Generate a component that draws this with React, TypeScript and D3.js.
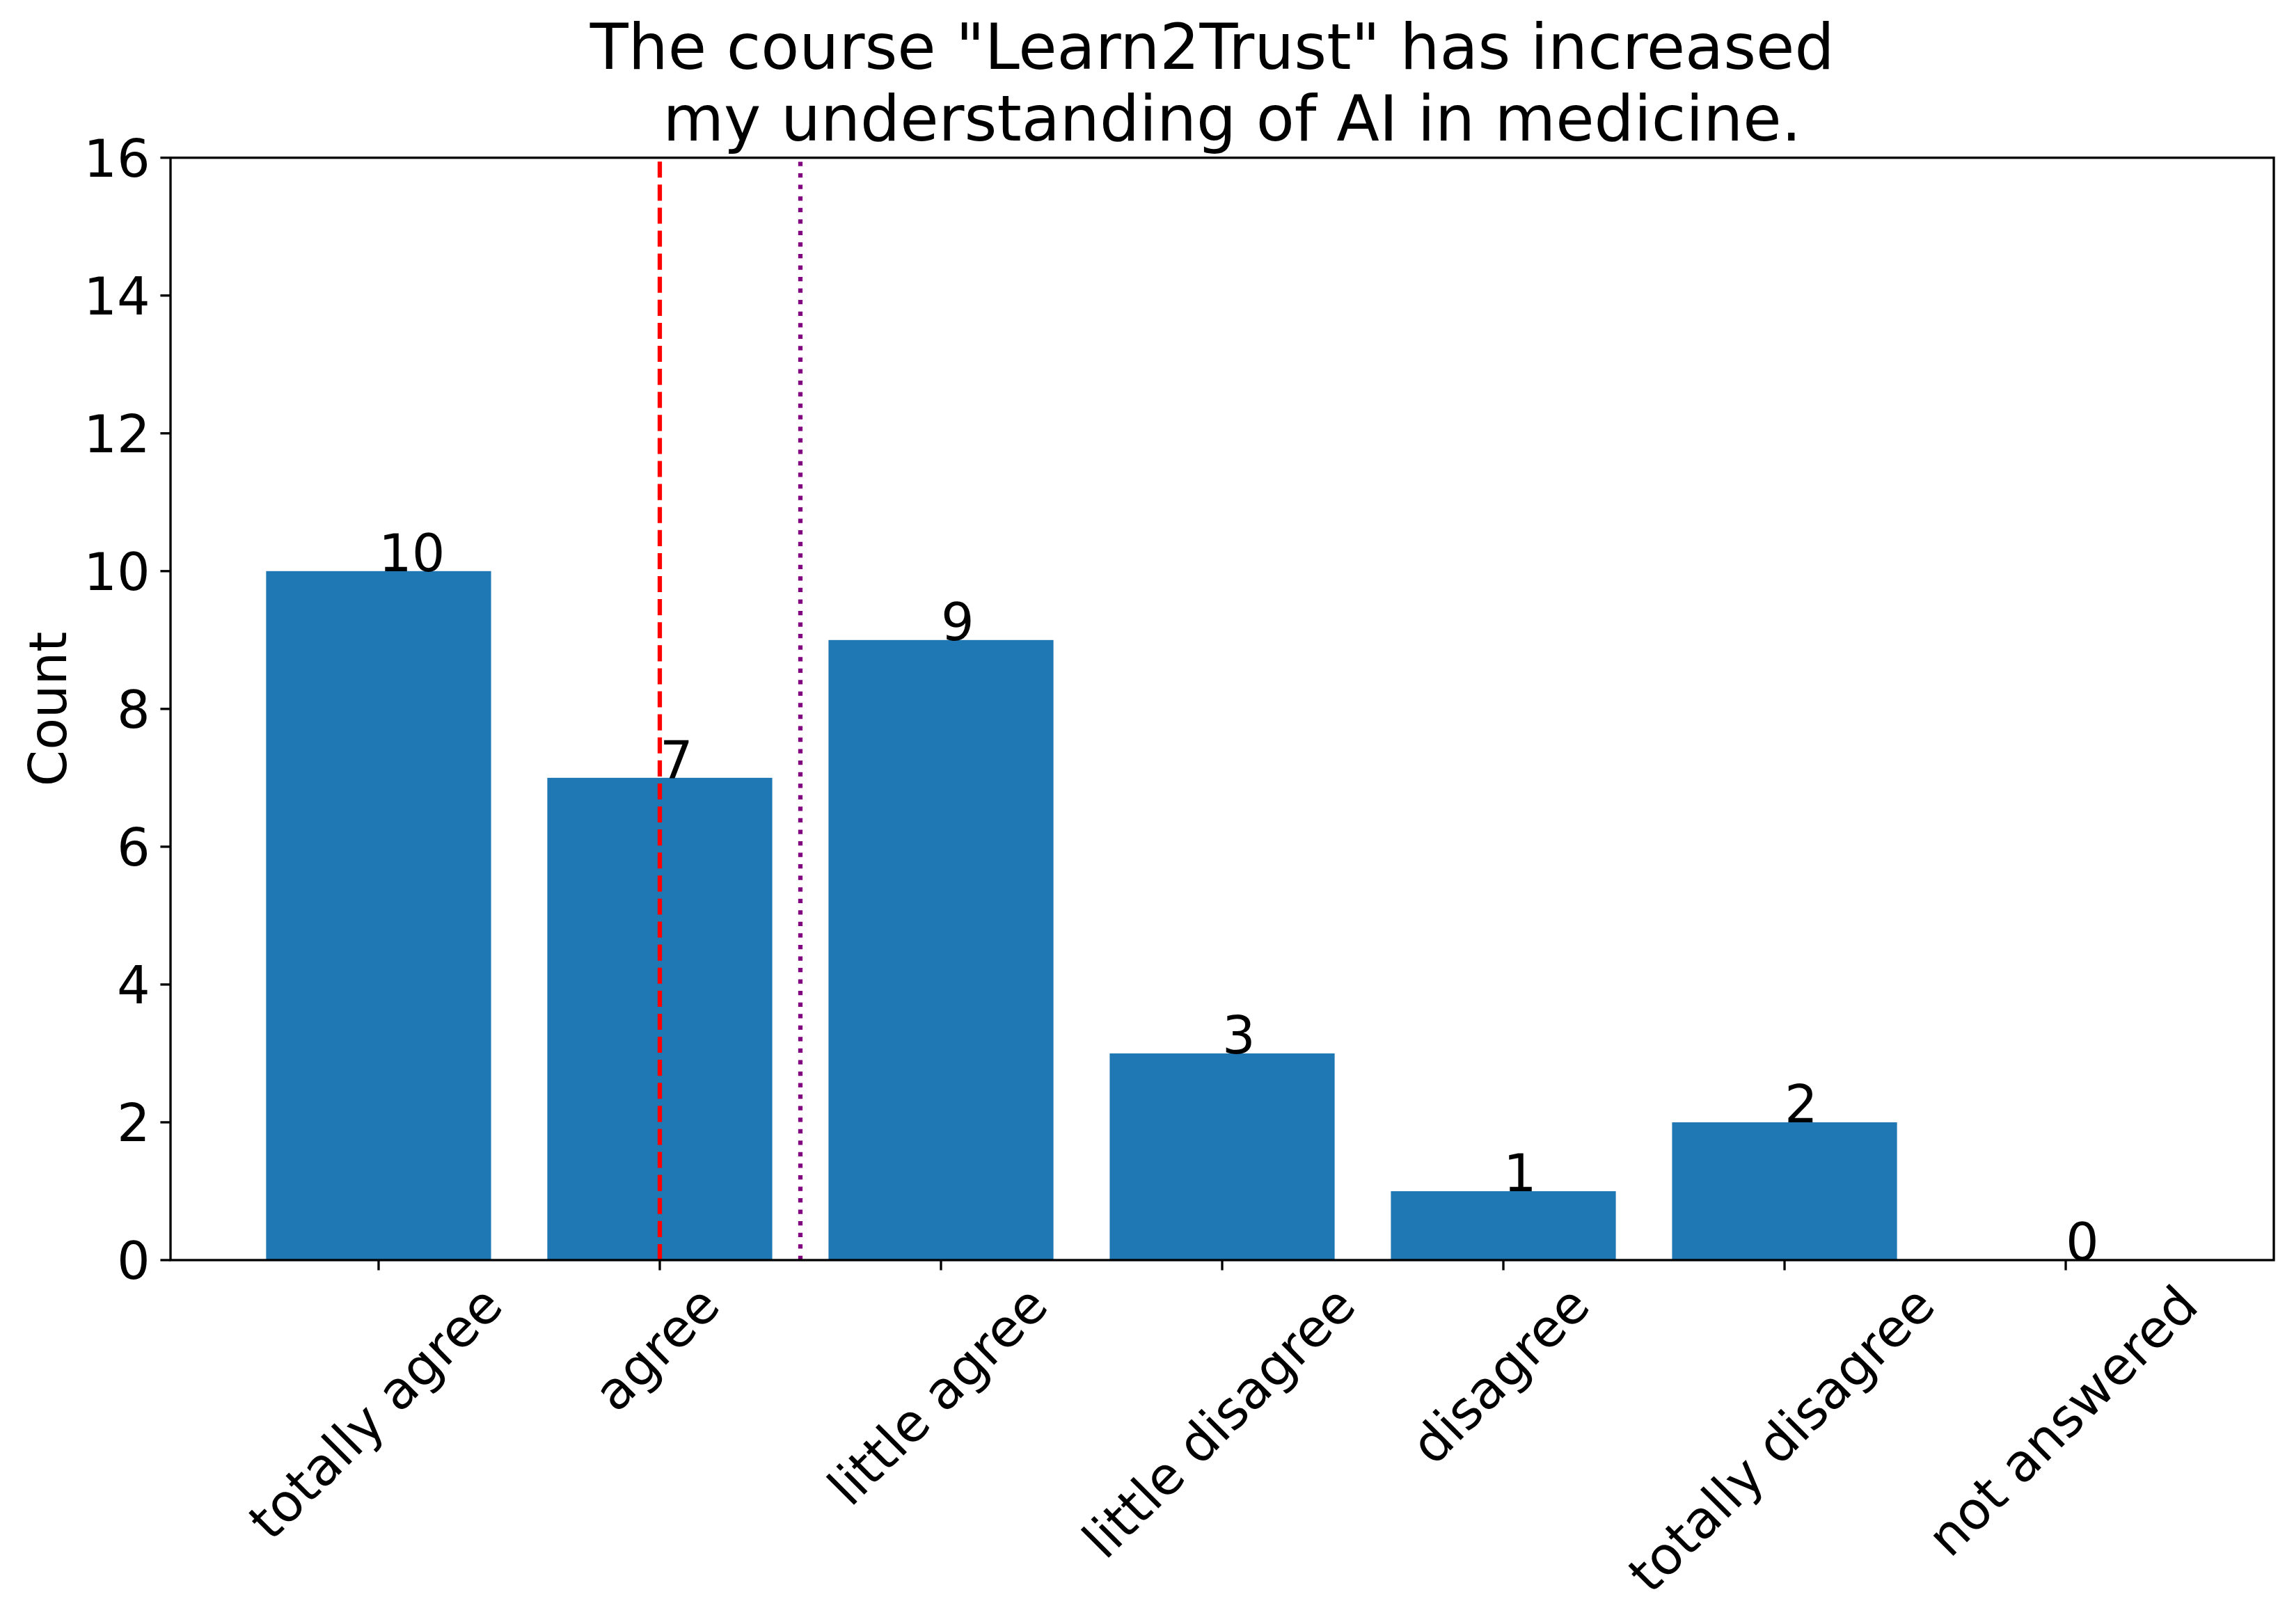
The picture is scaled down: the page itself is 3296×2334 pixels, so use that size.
import React, { useEffect, useRef } from "react";
import * as d3 from "d3";

const categories = [
  "totally agree",
  "agree",
  "little agree",
  "little disagree",
  "disagree",
  "totally disagree",
  "not answered",
];
const counts = [10, 7, 9, 3, 1, 2, 0];
const yTicks = [0, 2, 4, 6, 8, 10, 12, 14, 16];
const medianIndex = 1; // red dashed line
const meanIndex = 1.5; // purple dotted line
const titleLines = ['The course "Learn2Trust" has increased ', " my understanding of AI in medicine."];
const yLabel = "Count";

const W = 3296;
const H = 2334;
const FONT = "DejaVu Sans, sans-serif";

export default function App() {
  const ref = useRef<SVGSVGElement | null>(null);

  useEffect(() => {
    const svg = d3.select(ref.current);
    svg.selectAll("*").remove();

    const left = 245;
    const right = 3267;
    const top = 226.7;
    const bottom = 1811;

    const x = d3.scaleLinear().domain([-0.74, 6.74]).range([left, right]);
    const y = d3.scaleLinear().domain([0, 16]).range([bottom, top]);
    const barW = x(0.8) - x(0);

    svg.append("rect").attr("x", 0).attr("y", 0).attr("width", W).attr("height", H).attr("fill", "#fff");

    // bars
    svg
      .append("g")
      .selectAll("rect")
      .data(counts)
      .join("rect")
      .attr("x", (_d, i) => x(i) - barW / 2)
      .attr("y", (d) => y(d))
      .attr("width", barW)
      .attr("height", (d) => y(0) - y(d))
      .attr("fill", "#1f77b4");

    // median/mean lines
    svg
      .append("line")
      .attr("x1", x(medianIndex))
      .attr("x2", x(medianIndex))
      .attr("y1", bottom)
      .attr("y2", top)
      .attr("stroke", "#ff0000")
      .attr("stroke-width", 6.25)
      .attr("stroke-dasharray", "23.1,10");
    svg
      .append("line")
      .attr("x1", x(meanIndex))
      .attr("x2", x(meanIndex))
      .attr("y1", bottom)
      .attr("y2", top)
      .attr("stroke", "#800080")
      .attr("stroke-width", 6.25)
      .attr("stroke-dasharray", "6.25,10.3");

    // value labels
    svg
      .append("g")
      .selectAll("text")
      .data(counts)
      .join("text")
      .attr("x", (_d, i) => x(i))
      .attr("y", (d) => y(d))
      .attr("font-family", FONT)
      .attr("font-size", 75)
      .attr("fill", "#000")
      .text((d) => String(d));

    // spines
    const sw = 3.33;
    svg
      .append("rect")
      .attr("x", left)
      .attr("y", top)
      .attr("width", right - left)
      .attr("height", bottom - top)
      .attr("fill", "none")
      .attr("stroke", "#000")
      .attr("stroke-width", sw)
      .attr("stroke-linejoin", "miter");

    // y ticks
    const yg = svg.append("g");
    yTicks.forEach((t) => {
      yg.append("line")
        .attr("x1", left - 14.6)
        .attr("x2", left)
        .attr("y1", y(t))
        .attr("y2", y(t))
        .attr("stroke", "#000")
        .attr("stroke-width", sw);
      yg.append("text")
        .attr("x", left - 14.6 - 14.6)
        .attr("y", y(t))
        .attr("dy", "0.36em")
        .attr("text-anchor", "end")
        .attr("font-family", FONT)
        .attr("font-size", 75)
        .attr("fill", "#000")
        .text(String(t));
    });

    // x ticks
    const xg = svg.append("g");
    const labelTop = bottom + 14.6 + 14.6;
    const fs = 75;
    const h = fs * 0.996;
    categories.forEach((c, i) => {
      xg.append("line")
        .attr("x1", x(i))
        .attr("x2", x(i))
        .attr("y1", bottom)
        .attr("y2", bottom + 14.6)
        .attr("stroke", "#000")
        .attr("stroke-width", sw);
      const t = xg
        .append("text")
        .attr("font-family", FONT)
        .attr("font-size", fs)
        .attr("fill", "#000")
        .attr("text-anchor", "middle")
        .attr("dy", "0.26em")
        .text(c);
      const w = (t.node() as SVGTextElement).getComputedTextLength();
      const side = (w + h) / Math.SQRT2;
      const cx = x(i);
      const cy = labelTop + side / 2;
      t.attr("transform", `translate(${cx},${cy}) rotate(-45)`);
    });

    // y label
    svg
      .append("text")
      .attr("transform", `translate(95,${(top + bottom) / 2}) rotate(-90)`)
      .attr("text-anchor", "middle")
      .attr("font-family", FONT)
      .attr("font-size", 75)
      .attr("fill", "#000")
      .text(yLabel);

    // title
    const baselines = [99, 201.7];
    titleLines.forEach((line, i) => {
      svg
        .append("text")
        .attr("x", (left + right) / 2)
        .attr("y", baselines[i])
        .attr("text-anchor", "middle")
        .attr("font-family", FONT)
        .attr("font-size", 90)
        .attr("fill", "#000")
        .style("white-space", "pre")
        .text(line);
    });
  }, []);

  return (
    <svg
      ref={ref}
      width={W}
      height={H}
      style={{ position: "absolute", left: 0, top: 0, display: "block" }}
    />
  );
}
